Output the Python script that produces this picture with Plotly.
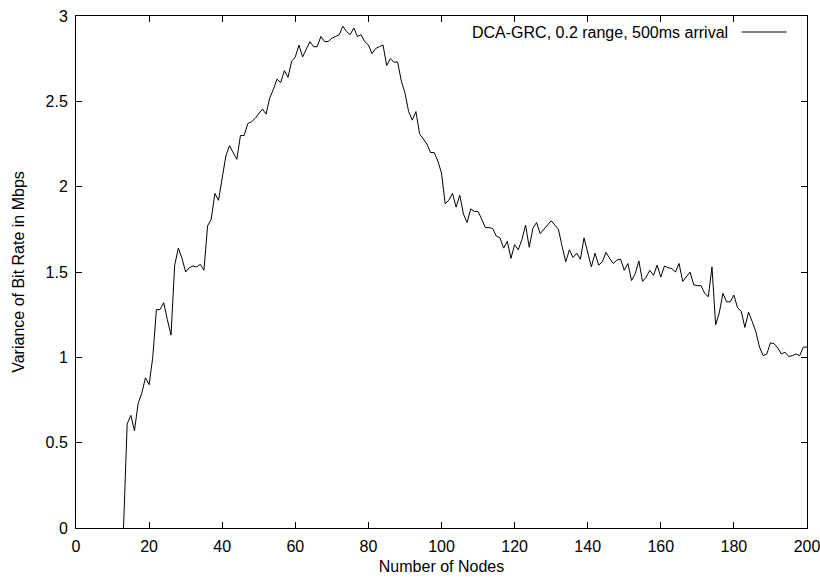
import plotly.graph_objects as go

nodes = list(range(13, 201))
variance = [
    0.00, 0.61, 0.66, 0.57, 0.73, 0.79, 0.88, 0.84, 1.00, 1.28,   # 13-22
    1.28, 1.32, 1.22, 1.13, 1.54, 1.64, 1.58, 1.50, 1.525, 1.535,  # 23-32
    1.53, 1.545, 1.51, 1.77, 1.81, 1.96, 1.92, 2.05, 2.18, 2.24,   # 33-42
    2.20, 2.16, 2.30, 2.30, 2.37, 2.38, 2.40, 2.43, 2.455, 2.425,  # 43-52
    2.52, 2.57, 2.63, 2.61, 2.68, 2.64, 2.735, 2.76, 2.83, 2.76,   # 53-62
    2.81, 2.85, 2.82, 2.82, 2.88, 2.85, 2.85, 2.87, 2.88, 2.89,    # 63-72
    2.94, 2.91, 2.89, 2.93, 2.88, 2.89, 2.85, 2.83, 2.78, 2.81,    # 73-82
    2.82, 2.83, 2.71, 2.75, 2.73, 2.73, 2.62, 2.55, 2.44, 2.39,    # 83-92
    2.44, 2.31, 2.28, 2.25, 2.20, 2.20, 2.15, 2.08, 1.90, 1.92,    # 93-102
    1.96, 1.88, 1.95, 1.84, 1.79, 1.87, 1.855, 1.855, 1.81, 1.76,  # 103-112
    1.76, 1.755, 1.71, 1.70, 1.64, 1.68, 1.58, 1.66, 1.63, 1.69,   # 113-122
    1.775, 1.645, 1.755, 1.79, 1.725, 1.75, 1.775, 1.80, 1.775, 1.75,  # 123-132
    1.65, 1.56, 1.63, 1.585, 1.61, 1.575, 1.70, 1.61, 1.53, 1.61,  # 133-142
    1.54, 1.56, 1.615, 1.58, 1.55, 1.57, 1.575, 1.51, 1.55, 1.45,  # 143-152
    1.49, 1.565, 1.445, 1.47, 1.51, 1.48, 1.54, 1.47, 1.535, 1.525,  # 153-162
    1.52, 1.50, 1.55, 1.445, 1.47, 1.50, 1.425, 1.42, 1.42, 1.375,  # 163-172
    1.355, 1.53, 1.19, 1.26, 1.375, 1.325, 1.325, 1.365, 1.29, 1.27,  # 173-182
    1.175, 1.265, 1.21, 1.15, 1.06, 1.01, 1.02, 1.085, 1.08, 1.055,  # 183-192
    1.02, 1.03, 1.005, 1.01, 1.02, 1.01, 1.06, 1.06,               # 193-200
]
series_name = "DCA-GRC, 0.2 range, 500ms arrival"
x_ticks = list(range(0, 201, 20))
y_ticks = [0, 0.5, 1, 1.5, 2, 2.5, 3]
y_tick_text = ["0", "0.5", "1", "1.5", "2", "2.5", "3"]

FONT = "Liberation Sans, Arial, Helvetica, sans-serif"
FS = 16

fig = go.Figure()
fig.add_trace(go.Scatter(
    x=nodes, y=variance, mode="lines", name=series_name,
    line=dict(color="black", width=1), showlegend=False, hoverinfo="skip",
))

axis_common = dict(
    showline=True, linecolor="black", linewidth=1, mirror="ticks",
    ticks="inside", ticklen=6, tickcolor="black", tickwidth=1,
    showgrid=False, zeroline=False, ticklabeloverflow="allow",
    automargin=False,
    tickfont=dict(family=FONT, size=FS, color="black"),
)

fig.update_layout(
    width=820, height=579,
    margin=dict(l=76, r=13, t=16, b=51),
    paper_bgcolor="white", plot_bgcolor="white",
    font=dict(family=FONT, size=FS, color="black"),
    xaxis=dict(range=[0, 200], tickvals=x_ticks, ticklabelstandoff=4,
               title=dict(text="Number of Nodes", font=dict(family=FONT, size=FS), standoff=6),
               **axis_common),
    yaxis=dict(range=[0, 3], tickvals=y_ticks, ticktext=y_tick_text, ticklabelstandoff=4,
               title=dict(text="Variance of Bit Rate in Mbps", font=dict(family=FONT, size=FS), standoff=16),
               **axis_common),
    annotations=[dict(
        x=0.8947, y=0.96875, xref="paper", yref="paper",
        xanchor="right", yanchor="middle", showarrow=False,
        text=series_name, font=dict(family=FONT, size=FS, color="black"),
    )],
    shapes=[dict(
        type="line", xref="paper", yref="paper",
        x0=0.9107, x1=0.9722, y0=0.96875, y1=0.96875,
        line=dict(color="black", width=1),
    )],
)

fig.write_html(
    "out.html",
    config={"displayModeBar": False},
    post_script="document.body.style.margin='0';document.body.style.overflow='hidden';",
)
